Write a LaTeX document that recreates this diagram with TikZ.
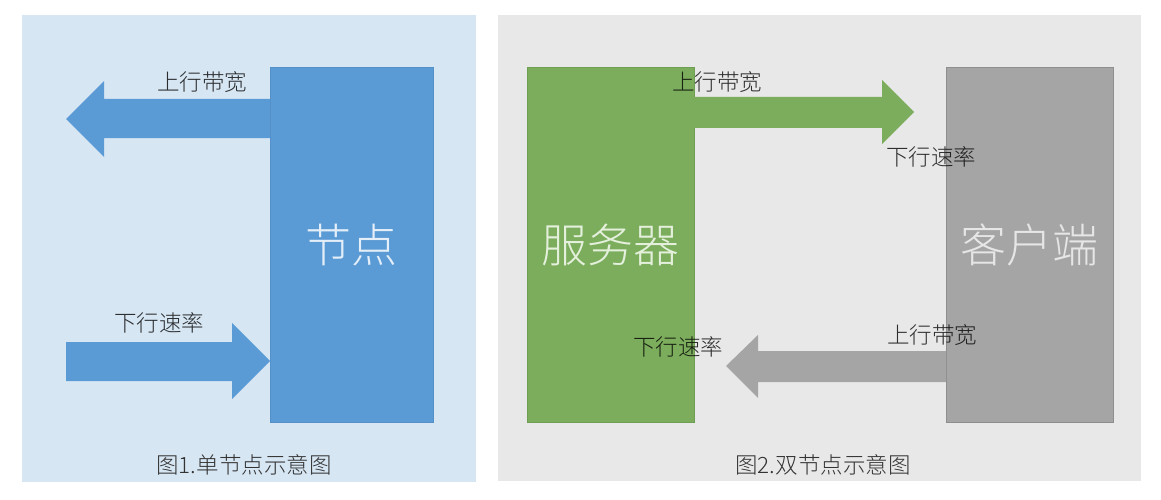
\documentclass[tikz,border=0pt]{standalone}
\usepackage{fontspec}
\setmainfont{Noto Sans CJK SC}[UprightFont={* Light}]
\definecolor{bgblue}{HTML}{D7E6F3}
\definecolor{bggray}{HTML}{E8E8E8}
\definecolor{nodeblue}{HTML}{5B9BD5}
\definecolor{nodeblueline}{HTML}{5590C8}
\definecolor{srvgreen}{HTML}{7CAD5D}
\definecolor{srvline}{HTML}{6E9E52}
\definecolor{cligray}{HTML}{A5A5A5}
\definecolor{cliline}{HTML}{8E8E8E}
\definecolor{srvtext}{HTML}{E4F0DC}
\definecolor{nodetext}{HTML}{E3EEF8}
\definecolor{clitext}{HTML}{E6E6E6}
\begin{document}
\begin{tikzpicture}[x=1pt,y=-1pt,
  box/.style={inner sep=0pt,outer sep=0pt,anchor=north west,minimum width=#1,minimum height=355pt},
  lbl/.style={inner sep=0pt,text=black,text opacity=0.8,font=\fontsize{22.5}{22.5}\selectfont},
  captext/.style={inner sep=0pt,text=black!80,font=\fontsize{22.5}{22.5}\selectfont},
  big/.style={inner sep=0pt,font=\fontsize{46}{46}\selectfont}]
\useasboundingbox (0,0) rectangle (1161,500);
\fill[white] (0,0) rectangle (1161,500);
% panels
\fill[bgblue] (22,15) rectangle (476,482);
\fill[bggray] (498,15) rectangle (1141,481);
% ---------- figure 1 ----------
\node[box=163pt,fill=nodeblue,draw=nodeblueline,line width=0.6pt] (node) at (270,67) {};
\node[big,text=nodetext] (nodet) at (351,245) {节点};
% up arrow (out of node, to the left)
\fill[nodeblue] (node.west |- 0,99) -- (104,99) -- (104,81) -- (66,119) -- (104,157) -- (104,138) -- (node.west |- 0,138) -- cycle;
% down arrow (into node)
\coordinate (dtip) at (node.west |- 0,361);
\fill[nodeblue] (66,342) -- (232,342) -- (232,323) -- (dtip) -- (232,399) -- (232,381) -- (66,381) -- cycle;
\node[lbl] (l1up) at (202,82) {上行带宽};
\node[lbl] (l1down) at (159,323) {下行速率};
\node[captext] (cap1) at (244,465) {图1.单节点示意图};
% ---------- figure 2 ----------
\node[box=167pt,fill=srvgreen,draw=srvline,line width=0.6pt] (srv) at (527,67) {};
\node[box=167pt,fill=cligray,draw=cliline,line width=0.6pt] (cli) at (946,67) {};
\node[big,text=srvtext] (srvt) at (610,245) {服务器};
\node[big,text=clitext] (clit) at (1029,245) {客户端};
% green arrow server -> client
\fill[srvgreen] (srv.east |- 0,97) -- (882,97) -- (882,80) -- (914,112) -- (882,144) -- (882,128) -- (srv.east |- 0,128) -- cycle;
% gray arrow client -> server
\fill[cligray] (cli.west |- 0,351) -- (758,351) -- (758,335) -- (726,366) -- (758,398) -- (758,382) -- (cli.west |- 0,382) -- cycle;
\node[lbl] (l2up) at (717,82) {上行带宽};
\node[lbl] (l2down) at (931,157) {下行速率};
\node[lbl] (l3down) at (678,347) {下行速率};
\node[lbl] (l3up) at (932,335) {上行带宽};
\node[captext] (cap2) at (823,465) {图2.双节点示意图};
\end{tikzpicture}
\end{document}
